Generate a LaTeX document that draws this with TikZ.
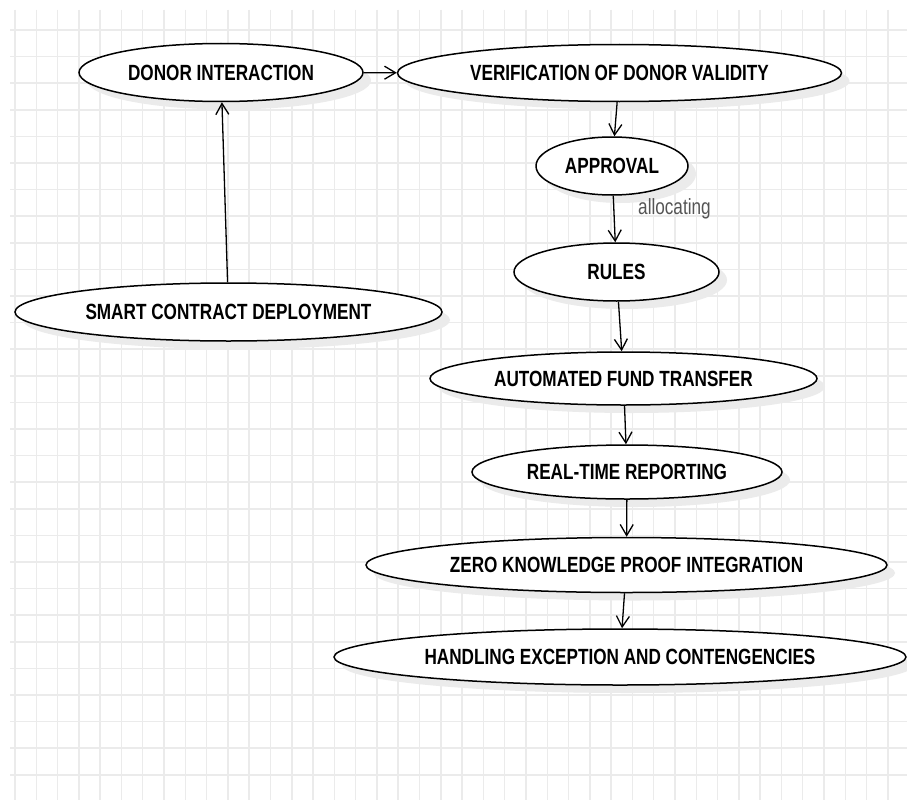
\documentclass[tikz,border=0pt]{standalone}
\usepackage{fontspec}
\setmainfont{Liberation Sans}
\newfontfamily\labfont[FakeStretch=0.78]{Liberation Sans}
\usetikzlibrary{shapes.geometric,arrows.meta,shadows}
\definecolor{gridc}{HTML}{EBEBEB}
\definecolor{lblc}{HTML}{555555}
\tikzset{
  uc/.style={ellipse, draw=black, line width=1.5pt, fill=white, inner sep=0pt,
    font=\labfont\bfseries\fontsize{22}{25}\selectfont,
    drop shadow={shadow xshift=8pt, shadow yshift=-8pt, fill=black!8, opacity=1}},
  flow/.style={line width=1.3pt, -{Straight Barb[length=11pt,width=13pt,line width=1.3pt]}},
  gridline/.style={gridc, line width=1.5pt},
  edgelabel/.style={text=lblc, font=\labfont\fontsize{22}{25}\selectfont, inner sep=0pt}
}
\begin{document}
\begin{tikzpicture}[x=1pt,y=-1pt]
\useasboundingbox (0,0) rectangle (907,800);
\fill[white] (0,0) rectangle (907,800);
\foreach \i in {0,...,41} \draw[gridline] ({15+21.29*\i},10) -- ({15+21.29*\i},800);
\foreach \j in {0,...,28} \draw[gridline] (10,{30+26.6*\j}) -- (907,{30+26.6*\j});

\node[uc, minimum width=284pt, minimum height=58pt] (donor) at (221,72.5) {DONOR INTERACTION};
\node[uc, minimum width=444pt, minimum height=57pt] (verif) at (619.5,73) {VERIFICATION OF DONOR VALIDITY};
\node[uc, minimum width=152pt, minimum height=58pt] (appr) at (612,166) {APPROVAL};
\node[uc, minimum width=205pt, minimum height=58pt] (rules) at (616.5,272) {RULES};
\node[uc, minimum width=427pt, minimum height=58pt] (smart) at (228.5,312) {SMART CONTRACT DEPLOYMENT};
\node[uc, minimum width=387pt, minimum height=53pt] (auto) at (623.5,378.5) {AUTOMATED FUND TRANSFER};
\node[uc, minimum width=310pt, minimum height=54pt] (real) at (627,472) {REAL-TIME REPORTING};
\node[uc, minimum width=521pt, minimum height=55pt] (zkp) at (626.5,565) {ZERO KNOWLEDGE PROOF INTEGRATION};
\node[uc, minimum width=572pt, minimum height=56pt] (handle) at (620,657) {HANDLING EXCEPTION AND CONTENGENCIES};

\draw[flow] (smart) -- (donor);
\draw[flow] (donor) -- (verif);
\draw[flow] (verif) -- (appr);
\draw[flow] (appr) -- (rules);
\node[edgelabel, anchor=west] (alloc) at (638,209) {allocating};
\draw[flow] (rules) -- (auto);
\draw[flow] (auto) -- (real);
\draw[flow] (real) -- (zkp);
\draw[flow] (zkp) -- (handle);
\end{tikzpicture}
\end{document}
